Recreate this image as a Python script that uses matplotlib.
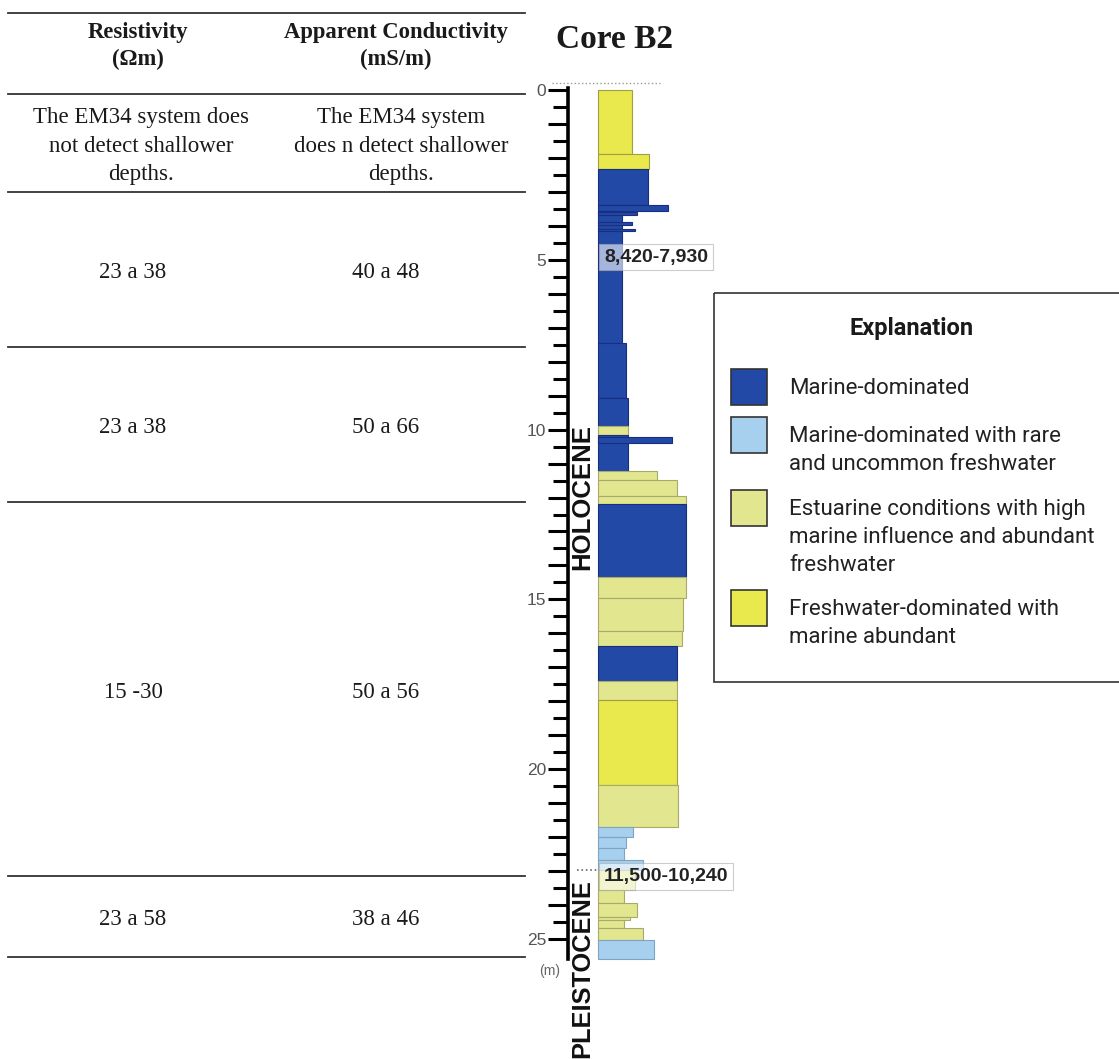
import matplotlib.pyplot as plt
from matplotlib.patches import Rectangle

# ---- table data ----
headers = ["Resistivity\n(Ωm)", "Apparent Conductivity\n(mS/m)"]
resistivity = ["The EM34 system does\nnot detect shallower\ndepths.",
               "23 a 38", "23 a 38", "15 -30", "23 a 58"]
conductivity = ["The EM34 system\ndoes n detect shallower\ndepths.",
                "40 a 48", "50 a 66", "50 a 56", "38 a 46"]

# ---- core B2 layers (depth in m, relative width, facies) ----
layer_top = [0.00, 1.87, 2.33, 3.40, 3.55, 3.60, 3.90, 4.08, 7.46, 9.07,
             9.88, 10.16, 10.22, 11.22, 11.48, 11.95, 12.19, 14.35, 14.96, 15.94,
             16.37, 17.40, 17.96, 20.47, 21.69, 21.99, 22.33, 22.68, 22.97, 23.56,
             23.95, 24.34, 24.44, 24.69, 25.02]
layer_bot = [1.87, 2.33, 3.40, 3.55, 7.46, 3.68, 3.97, 4.16, 9.07, 9.88,
             10.16, 11.22, 10.38, 11.48, 11.95, 12.19, 14.35, 14.96, 15.94, 16.37,
             17.40, 17.96, 20.47, 21.69, 21.99, 22.33, 22.68, 22.97, 23.56, 23.95,
             24.34, 24.44, 24.69, 25.02, 25.60]
layer_width = [34, 51, 50, 70, 24, 39, 34, 37, 28, 30,
               30, 30, 74, 59, 79, 88, 88, 88, 85, 84,
               79, 79, 79, 80, 35, 28, 26, 45, 37, 26,
               39, 32, 26, 45, 56]
layer_facies = ["F", "F", "M", "M", "M", "M", "M", "M", "M", "M",
                "E", "M", "M", "E", "E", "E", "M", "E", "E", "E",
                "M", "E", "F", "E", "L", "L", "L", "L", "E", "E",
                "E", "E", "E", "E", "L"]

age_labels = ["8,420-7,930", "11,500-10,240"]
age_depths = [4.92, 23.15]

facies_order = ["M", "L", "E", "F"]
facies_names = ["Marine-dominated",
                "Marine-dominated with rare\nand uncommon freshwater",
                "Estuarine conditions with high\nmarine influence and abundant\nfreshwater",
                "Freshwater-dominated with\nmarine abundant"]
fill = {"M": "#2249a6", "L": "#a6d0ee", "E": "#e2e68e", "F": "#e9e84c"}
edge = {"M": "#1a2e80", "L": "#7ea4c4", "E": "#a8aa6c", "F": "#a09f48"}

W, H = 1119, 1059
fig = plt.figure(figsize=(W / 100, H / 100), dpi=100)

# pixel-space axes for table, title and legend
ax_t = fig.add_axes([0, 0, 1, 1])
ax_t.set_xlim(0, W)
ax_t.set_ylim(H, 0)
ax_t.axis("off")

serif = "Liberation Serif"
row_lines = [13, 94, 192, 347, 502, 876, 957]
for y in row_lines:
    ax_t.plot([8, 525], [y, y], color="#333333", lw=1.3)

col_x = [138, 396]
for x, h in zip(col_x, headers):
    ax_t.text(x, 46, h, ha="center", va="center", family=serif,
              fontweight="bold", fontsize=16.3, linespacing=1.35, color="#1a1a1a")
for i, (r, c) in enumerate(zip(resistivity, conductivity)):
    yc = (row_lines[i + 1] + row_lines[i + 2]) / 2 + 3
    ax_t.text(col_x[0] - (5 if i else -3), yc, r, ha="center", va="center",
              family=serif, fontsize=16.5, linespacing=1.45, color="#1a1a1a")
    ax_t.text(col_x[1] - (10 if i else -5), yc, c, ha="center", va="center",
              family=serif, fontsize=16.5, linespacing=1.45, color="#1a1a1a")

ax_t.text(614, 39, "Core B2", ha="center", va="center", family=serif,
          fontweight="bold", fontsize=24, color="#1a1a1a")

# legend box
ax_t.add_patch(Rectangle((714, 293), 420, 389, fill=False, ec="#333333", lw=1.2))
ax_t.text(912, 328, "Explanation", ha="center", va="center", family="Roboto",
          fontweight="bold", fontsize=17, color="#1a1a1a")
patch_tops = [369, 417, 490, 590]
for f, name, pt in zip(facies_order, facies_names, patch_tops):
    ax_t.add_patch(Rectangle((731, pt), 36, 36, fc=fill[f], ec="#333333", lw=1.2))
    ax_t.text(789, pt + 9, name, ha="left", va="top", family="Roboto",
              fontsize=16, linespacing=1.45, color="#222222")

# ---- core column axes: depth coordinates ----
px_per_m, y0 = 33.96, 90
d_top, d_bot = (60 - y0) / px_per_m, (H - y0) / px_per_m
ax = fig.add_axes([520 / W, 0, 240 / W, (H - 60) / H])
ax.set_xlim(-78, 162)
ax.set_ylim(d_bot, d_top)
ax.patch.set_alpha(0)

heights = [b - t for t, b in zip(layer_top, layer_bot)]
ax.barh(layer_top, layer_width, height=heights, left=0, align="edge",
        color=[fill[f] for f in layer_facies],
        edgecolor=[edge[f] for f in layer_facies], linewidth=0.8)

for s in ["top", "right", "bottom"]:
    ax.spines[s].set_visible(False)
ax.spines["left"].set_position(("data", -30))
ax.spines["left"].set_linewidth(2.6)
ax.spines["left"].set_bounds(-0.05, 25.6)
ax.set_xticks([])
ax.set_yticks(range(0, 26))
ax.set_yticklabels([str(d) if d % 5 == 0 else "" for d in range(0, 26)],
                   family="Liberation Sans", fontsize=12.5, color="#555555")
ax.set_yticks([d + 0.5 for d in range(0, 25)], minor=True)
ax.tick_params(axis="y", which="major", length=14.5, width=2.2, pad=1)
ax.tick_params(axis="y", which="minor", length=11, width=2.2)

ax.plot([-46, 62], [-0.2, -0.2], ls=":", color="#9a9a9a", lw=1)
ax.plot([-21, 0], [22.98, 22.98], ls=":", color="#666666", lw=1.2)

for lab, d in zip(age_labels, age_depths):
    ax.text(6, d, lab, ha="left", va="center", family="Liberation Sans",
            fontweight="bold", fontsize=14, color="#222222",
            bbox=dict(boxstyle="square,pad=0.25", fc="white", alpha=0.6, ec="#aaaaaa", lw=0.8))

ax.text(-15.5, 11.98, "HOLOCENE", rotation=90, ha="center", va="center",
        family="Liberation Sans", fontweight="bold", fontsize=18.5, color="#111111")
ax.text(-15.5, 23.25, "PLEISTOCENE", rotation=90, ha="center", va="top",
        family="Liberation Sans", fontweight="bold", fontsize=18.3, color="#111111")
ax.text(-48, 25.95, "(m)", ha="center", va="center", family="Liberation Sans",
        fontsize=10, color="#666666")

fig.savefig("out.png", dpi=100, facecolor="white")
